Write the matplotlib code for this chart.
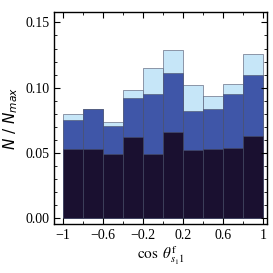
import matplotlib
matplotlib.use("Agg")
import matplotlib.pyplot as plt
import numpy as np
from matplotlib.ticker import MultipleLocator

BIN_EDGES = [-1.0, -0.8, -0.6, -0.4, -0.2, 0.0, 0.2, 0.4, 0.6, 0.8, 1.0]
TOTAL = [0.080, 0.084, 0.074, 0.098, 0.115, 0.129, 0.102, 0.094, 0.103, 0.126]
MIDDLE = [0.075, 0.084, 0.071, 0.092, 0.095, 0.111, 0.082, 0.084, 0.095, 0.110]
LOWER = [0.053, 0.053, 0.049, 0.062, 0.049, 0.066, 0.052, 0.053, 0.054, 0.063]
X_TICKS = [-1, -0.6, -0.2, 0.2, 0.6, 1]
X_TICK_LABELS = ["\u22121", "\u22120.6", "\u22120.2", "0.2", "0.6", "1"]
Y_TICKS = [0.0, 0.05, 0.10, 0.15]

plt.rcParams["font.family"] = ["Liberation Serif", "DejaVu Serif"]
plt.rcParams["mathtext.fontset"] = "stix"

fig = plt.figure(figsize=(2.73, 2.73), dpi=100)
ax = fig.add_axes([0.198, 0.179, 0.78, 0.777])

left = np.array(BIN_EDGES[:-1])
width = np.diff(BIN_EDGES)
for values, color in [(TOTAL, "#c6e6f8"), (MIDDLE, "#3f56a8"), (LOWER, "#1a1030")]:
    ax.bar(left, values, width=width, align="edge", color=color,
           edgecolor="#4a5068", linewidth=0.4)

ax.set_xlim(-1.09, 1.04)
ax.set_ylim(-0.0046, 0.158)
ax.set_xticks(X_TICKS)
ax.set_xticklabels(X_TICK_LABELS)
ax.xaxis.set_minor_locator(MultipleLocator(0.2))
ax.set_yticks(Y_TICKS)
ax.set_yticklabels([f"{v:.2f}" for v in Y_TICKS])
ax.yaxis.set_minor_locator(MultipleLocator(0.01))
ax.tick_params(which="both", direction="in", top=True, right=True, labelsize=10)
ax.tick_params(which="major", length=4, width=0.8)
ax.tick_params(which="minor", length=2, width=0.6)
for spine in ax.spines.values():
    spine.set_linewidth(1.0)

ax.set_ylabel(r"$N\ /\ N_{max}$", fontsize=11, math_fontfamily="dejavusans",
              labelpad=4)
ax.set_xlabel(r"$\cos\ \theta^{\mathrm{f}}_{s_1 1}$", fontsize=11, labelpad=2)

fig.savefig("out.png", dpi=100, facecolor="white")
